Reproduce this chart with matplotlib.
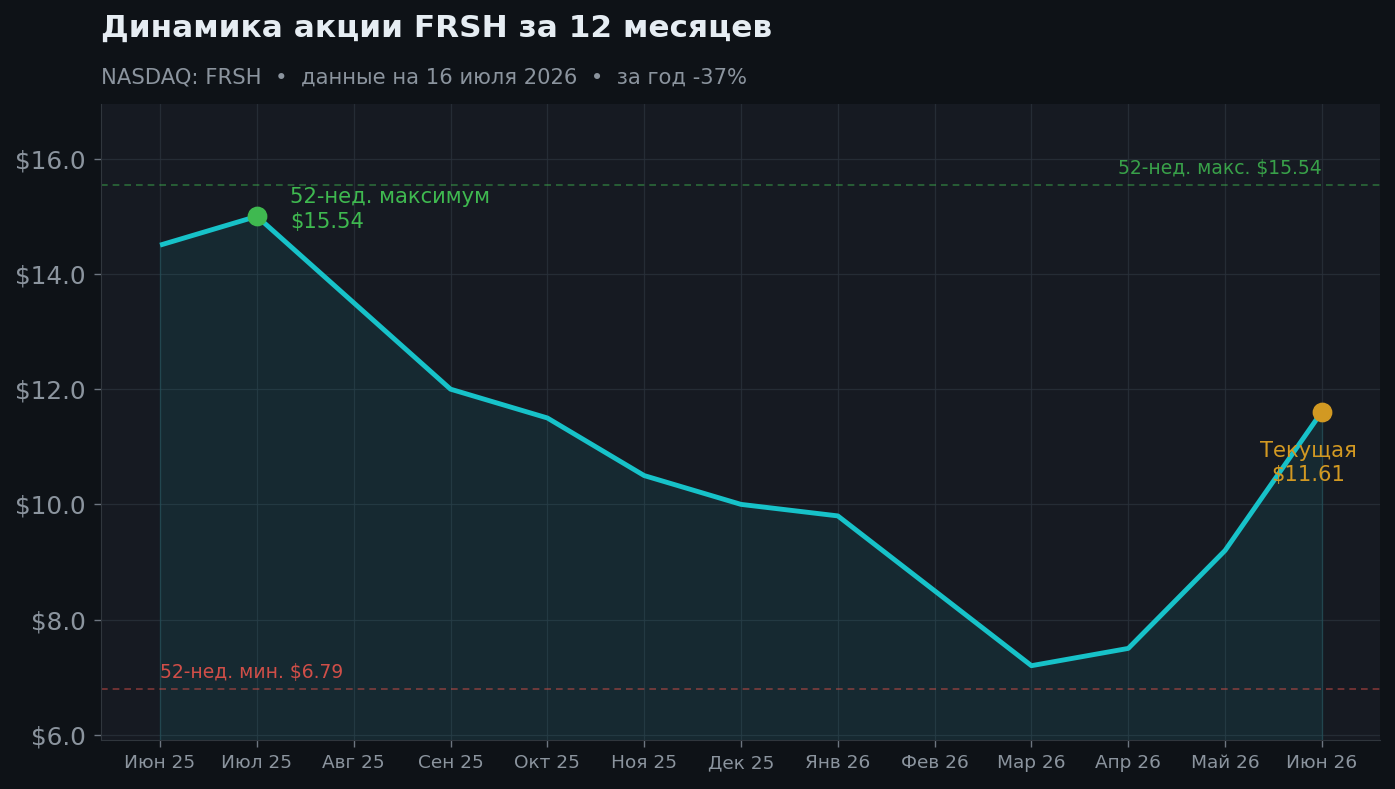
import numpy as np
import matplotlib
matplotlib.use('Agg')
import matplotlib.pyplot as plt

# ─── ДАННЫЕ ───
MONTHS = ['Июн 25', 'Июл 25', 'Авг 25', 'Сен 25', 'Окт 25', 'Ноя 25', 'Дек 25',
          'Янв 26', 'Фев 26', 'Мар 26', 'Апр 26', 'Май 26', 'Июн 26']
PRICES = [14.5, 15.0, 13.5, 12.0, 11.5, 10.5, 10.0, 9.8, 8.5, 7.2, 7.5, 9.2, 11.61]
HIGH_52W = 15.54
LOW_52W = 6.79
PEAK_IDX = 1
YTICKS = [6.0, 8.0, 10.0, 12.0, 14.0, 16.0]

# ─── СТИЛЬ ───
BG_FIG = '#0e1217'
BG_AX = '#161a22'
CYAN = '#17c2c9'
GREEN = '#3fb950'
ORANGE = '#d29922'
RED = '#e5534b'
TXT = '#8b949e'

plt.rcParams.update({
    'font.family': ['DejaVu Sans'],
    'axes.edgecolor': '#30363d',
})

fig = plt.figure(figsize=(13.95, 7.89), dpi=100, facecolor=BG_FIG)
ax = fig.add_axes([101 / 1395, 1 - 740 / 789, (1380 - 101) / 1395, (740 - 104) / 789])
ax.set_facecolor(BG_AX)

x = np.arange(len(MONTHS))
y = np.array(PRICES)
y_lo, y_hi = 5.91, 16.95

ax.fill_between(x, y, y_lo, color=CYAN, alpha=0.09, lw=0)
ax.plot([x[0], x[0]], [y_lo, y[0]], color=CYAN, alpha=0.15, lw=1)
ax.plot([x[-1], x[-1]], [y_lo, y[-1]], color=CYAN, alpha=0.15, lw=1)
ax.plot(x, y, color=CYAN, lw=3.5, solid_capstyle='butt', zorder=3)

ax.axhline(HIGH_52W, color=GREEN, lw=1.2, ls='--', alpha=0.5, dashes=(4, 3))
ax.axhline(LOW_52W, color=RED, lw=1.2, ls='--', alpha=0.5, dashes=(4, 3))
ax.text(x[-1], HIGH_52W + 0.13, f'52-нед. макс. ${HIGH_52W:.2f}', color=GREEN,
        alpha=0.85, fontsize=13.5, ha='right', va='bottom')
ax.text(x[0], LOW_52W + 0.13, f'52-нед. мин. ${LOW_52W:.2f}', color=RED,
        alpha=0.9, fontsize=13.5, ha='left', va='bottom')

ax.scatter([x[PEAK_IDX]], [y[PEAK_IDX]], s=175, color=GREEN, zorder=4)
ax.annotate(f'52-нед. максимум\n${HIGH_52W:.2f}', (x[PEAK_IDX], y[PEAK_IDX]),
            xytext=(24, 5), textcoords='offset points', color=GREEN,
            fontsize=15.2, ha='left', va='center', linespacing=1.3)

ax.scatter([x[-1]], [y[-1]], s=175, color=ORANGE, zorder=4)
ax.annotate(f'Текущая\n${y[-1]:.2f}', (x[-1], y[-1]),
            xytext=(-10, -37), textcoords='offset points', color=ORANGE,
            fontsize=15.2, ha='center', va='center', linespacing=1.3)

ax.set_xlim(-0.61, 12.6)
ax.set_ylim(y_lo, y_hi)
ax.set_xticks(x)
ax.set_xticklabels(MONTHS, fontsize=13.3, color=TXT)
ax.set_yticks(YTICKS)
ax.set_yticklabels([f'${v:.1f}' for v in YTICKS], fontsize=17.8, color=TXT)
ax.tick_params(axis='both', colors='#6e7681', length=5, width=1)
ax.tick_params(axis='x', labelcolor=TXT, pad=5)
ax.tick_params(axis='y', labelcolor=TXT, pad=6)
ax.grid(True, color='#2a313b', lw=0.9, alpha=0.8)
ax.set_axisbelow(True)
for s in ['top', 'right']:
    ax.spines[s].set_visible(False)
for s in ['left', 'bottom']:
    ax.spines[s].set_color('#30363d')

fig.text(101 / 1395, 1 - 28 / 789, 'Динамика акции FRSH за 12 месяцев', fontsize=22.4,
         fontweight='bold', color='#e6edf3', ha='left', va='center')
fig.text(101 / 1395, 1 - 77 / 789,
         'NASDAQ: FRSH  •  данные на 16 июля 2026  •  за год -37%',
         fontsize=15.2, color=TXT, ha='left', va='center')

fig.savefig('out.png', dpi=100, facecolor=BG_FIG)
